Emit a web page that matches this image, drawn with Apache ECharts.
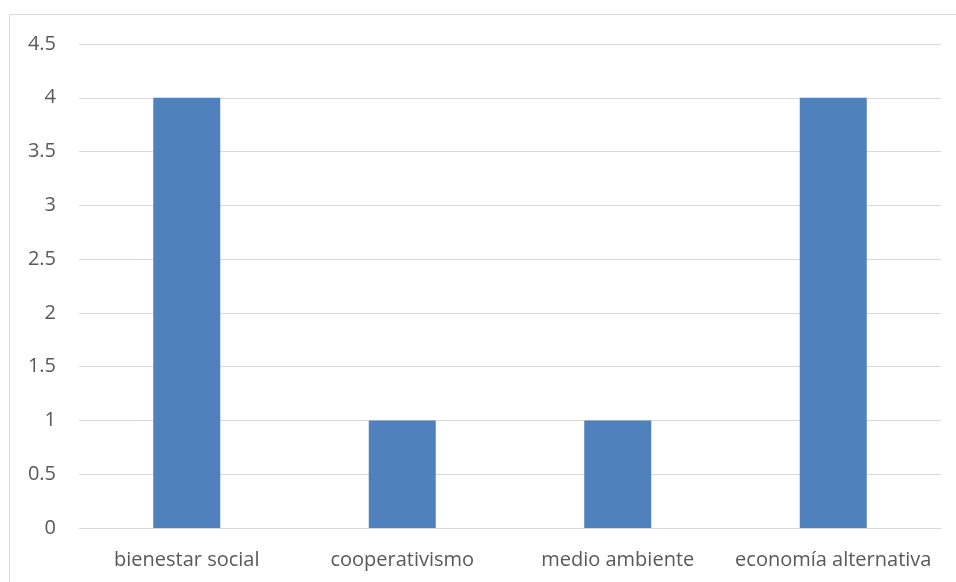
<!DOCTYPE html>
<html>
<head>
<meta charset="utf-8">
<script src="https://cdn.jsdelivr.net/npm/echarts@6/dist/echarts.min.js"></script>
<style>html,body{margin:0;padding:0;background:#fff}#c{width:956px;height:582px}</style>
</head>
<body>
<div id="c"></div>
<script>
const categories = ['bienestar social', 'cooperativismo', 'medio ambiente', 'economía alternativa'];
const values = [4, 1, 1, 4];

const chart = echarts.init(document.getElementById('c'), null, {renderer: 'canvas'});
const font = '"Open Sans", "Liberation Sans", sans-serif';
chart.setOption({
  animation: false,
  backgroundColor: '#fff',
  graphic: [{
    type: 'rect', shape: {x: 9.5, y: 14.5, width: 1000, height: 1000},
    style: {fill: 'none', stroke: '#d9d9d9', lineWidth: 1}, silent: true
  }],
  grid: {left: 79, right: 15, top: 44, bottom: 54, containLabel: false},
  xAxis: {
    type: 'category', data: categories,
    axisLine: {show: true, lineStyle: {color: '#d9d9d9', width: 1}},
    axisTick: {show: false},
    axisLabel: {color: '#595959', fontSize: 20, fontFamily: font, margin: 22, interval: 0}
  },
  yAxis: {
    type: 'value', min: 0, max: 4.5, interval: 0.5,
    axisLine: {show: false}, axisTick: {show: false},
    splitLine: {lineStyle: {color: '#d9d9d9', width: 1}},
    axisLabel: {color: '#595959', fontSize: 20, fontFamily: font, margin: 23}
  },
  series: [{
    type: 'bar', data: values, barWidth: 67,
    itemStyle: {color: '#4f81bd'}
  }]
});
</script>
</body>
</html>
